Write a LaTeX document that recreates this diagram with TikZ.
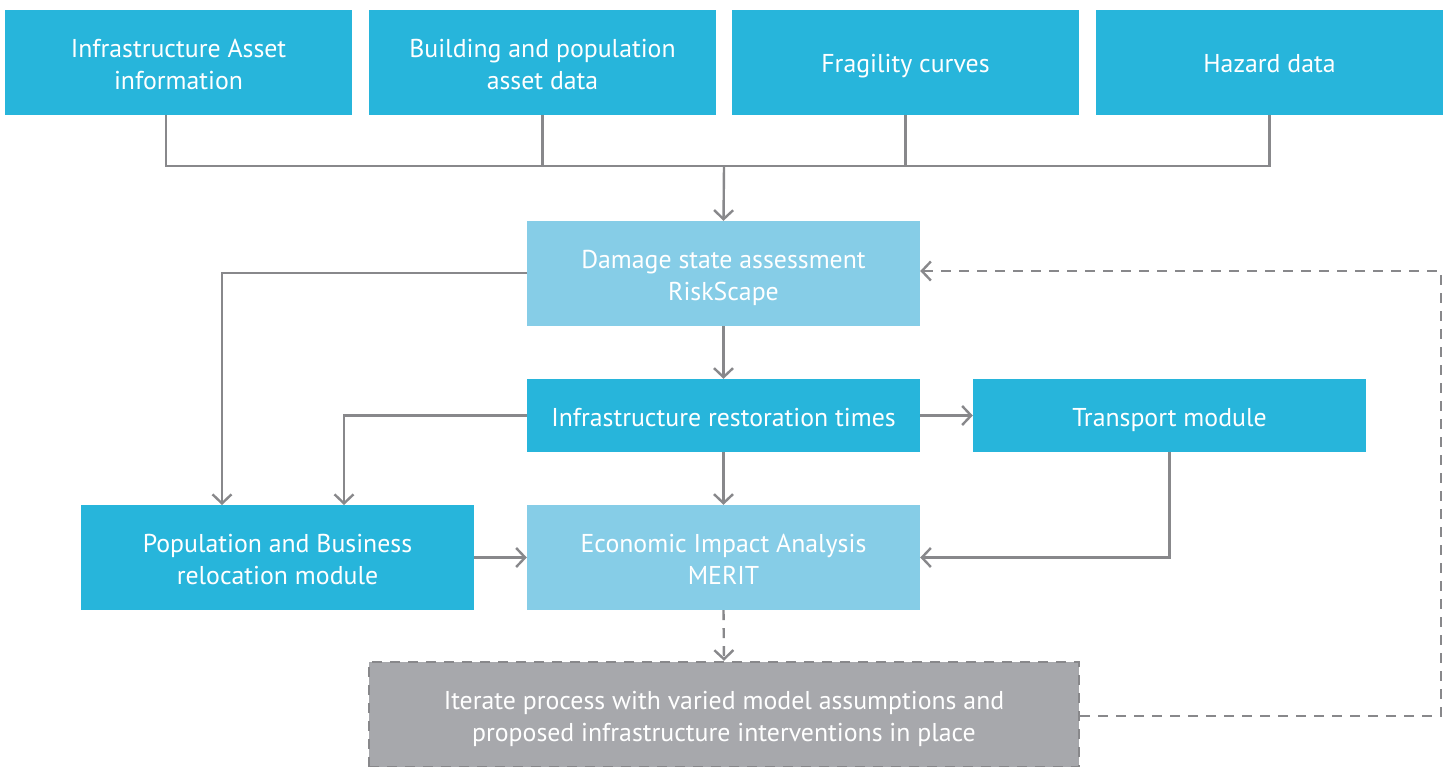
\documentclass[tikz,border=0pt]{standalone}
\usepackage{fontspec}
\setmainfont{PT Sans}
\usetikzlibrary{arrows.meta}
\definecolor{boxblue}{HTML}{27B5DB}
\definecolor{boxlight}{HTML}{86CDE7}
\definecolor{boxgray}{HTML}{A7A8AC}
\definecolor{linegray}{HTML}{88888B}
% struts that keep the text of two-line boxes vertically balanced
\newcommand\boxtopstrut{\rule{0pt}{29pt}}
\newcommand\boxbotstrut{\rule[-7pt]{0pt}{7pt}}
\begin{document}
\begin{tikzpicture}[x=1pt,y=-1pt,
  box/.style={fill=boxblue,draw=none,text=white,font=\fontsize{25.8}{32}\selectfont,
    align=center,inner sep=0pt,
    execute at begin node={\rule{0pt}{27.5pt}},
    execute at end node={\rule[-6.5pt]{0pt}{6.5pt}}},
  lightbox/.style={box,fill=boxlight},
  conn/.style={draw=linegray,line width=2.4pt,-{Straight Barb[length=9pt,width=19pt,line width=2.4pt]}},
  plain/.style={draw=linegray,line width=2.4pt},
  dashconn/.style={conn,dash pattern=on 10pt off 8pt}]
\useasboundingbox (0,0) rectangle (1450,767);
% input data boxes
\node[box,minimum width=347pt,minimum height=105pt] (infra) at (178.5,62.5) {\boxtopstrut Infrastructure Asset\\information\boxbotstrut};
\node[box,minimum width=347pt,minimum height=105pt] (build) at (542.5,62.5) {\boxtopstrut Building and population\\asset data\boxbotstrut};
\node[box,minimum width=347pt,minimum height=105pt] (frag) at (905.5,62.5) {Fragility curves};
\node[box,minimum width=347pt,minimum height=105pt] (haz) at (1269.5,62.5) {Hazard data};
% processing chain
\node[lightbox,minimum width=393pt,minimum height=105pt] (damage) at (723.5,273.5) {\boxtopstrut Damage state assessment\\RiskScape\boxbotstrut};
\node[box,minimum width=393pt,minimum height=73pt] (resto) at (723.5,415.5) {Infrastructure restoration times};
\node[box,minimum width=393pt,minimum height=73pt] (trans) at (1169.5,415.5) {Transport module};
\node[box,minimum width=393pt,minimum height=105pt] (pop) at (277.5,557.5) {\boxtopstrut Population and Business\\relocation module\boxbotstrut};
\node[lightbox,minimum width=393pt,minimum height=105pt] (econ) at (723.5,557.5) {\boxtopstrut Economic Impact Analysis\\MERIT\boxbotstrut};
\node[box,fill=boxgray,draw=linegray,line width=2.4pt,dash pattern=on 10pt off 8pt,
  minimum width=710pt,minimum height=105pt] (iter) at (724,714.5) {\boxtopstrut Iterate process with varied model assumptions and\\proposed infrastructure interventions in place\boxbotstrut};
% collecting bus
\coordinate (bus) at (724,166);
\coordinate (infradrop) at (166,115);
\draw[plain] (infradrop) |- (haz.south |- bus) -- (haz.south);
\draw[plain] (build.south) -- (build.south |- bus);
\draw[plain] (frag.south) -- (frag.south |- bus);
\draw[conn] (bus) -- (damage.north);
% flow between modules
\draw[conn] (damage.west |- 0,273) -| (222,505);
\draw[conn] (damage.south) -- (resto.north);
\draw[conn] (resto.west) -| (344,505);
\draw[conn] (resto.east) -- (trans.west);
\draw[conn] (resto.south) -- (econ.north);
\draw[conn] (trans.south) |- (econ.east);
\draw[conn] (pop.east) -- (econ.west);
\draw[dashconn] (econ.south) -- (iter.north);
% feedback loop
\coordinate (loop) at (1441,716);
\draw[dashconn] (iter.east |- loop) -- (loop) |- (damage.east |- 0,271);
\end{tikzpicture}
\end{document}
